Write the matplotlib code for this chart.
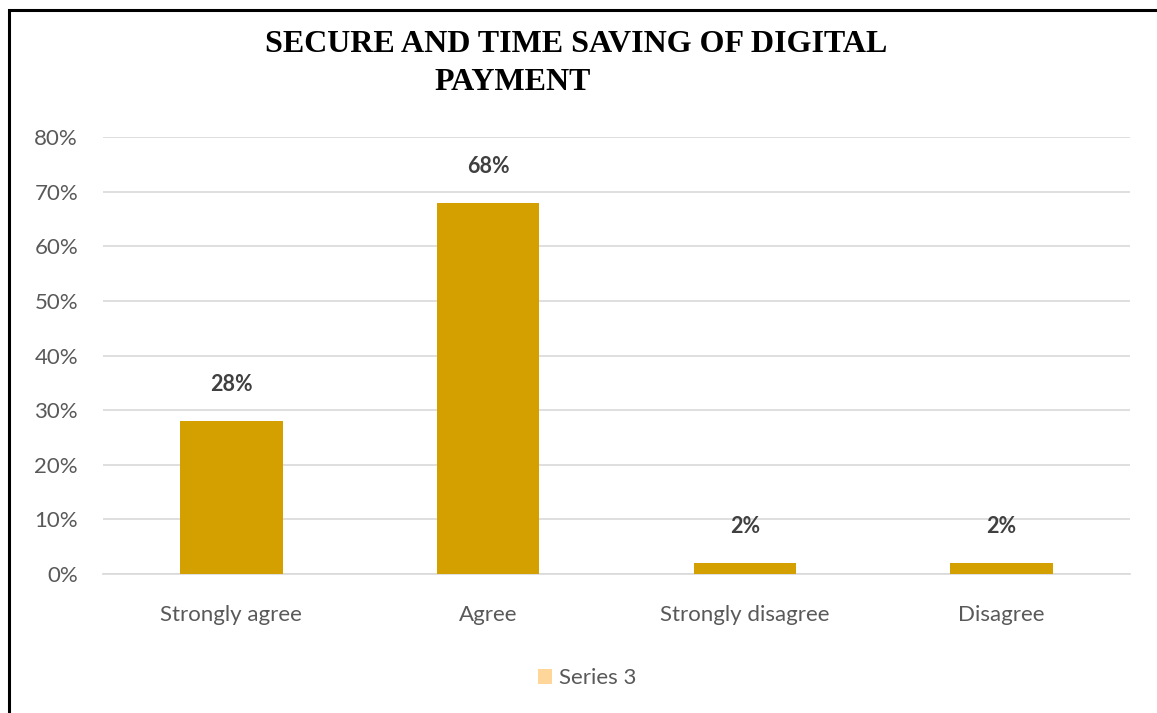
import matplotlib
matplotlib.use("Agg")
import matplotlib.pyplot as plt
from matplotlib.patches import Patch, Rectangle
from matplotlib.ticker import FuncFormatter

categories = ["Strongly agree", "Agree", "Strongly disagree", "Disagree"]
values = [0.28, 0.68, 0.02, 0.02]
labels = ["28%", "68%", "2%", "2%"]
series_name = "Series 3"
title_line1 = "SECURE AND TIME SAVING OF DIGITAL"
title_line2 = "PAYMENT"

W, H = 1157, 713
fig = plt.figure(figsize=(W / 100, H / 100), dpi=100)
fig.patch.set_facecolor("white")

# border (frame extends beyond right/bottom)
fig.add_artist(Rectangle((9 / W, -0.1), 1.2, 1 - 10 / H + 0.1, transform=fig.transFigure,
                         fill=False, edgecolor="black", linewidth=2.2))

FONT = "Lato"
ax = fig.add_axes([103 / W, 1 - 574 / H, (1130 - 103) / W, (574 - 137) / H])
x = range(len(categories))
ax.bar(x, values, width=0.4, color="#D4A000", zorder=3)
ax.set_xlim(-0.5, len(categories) - 0.5)
ax.set_ylim(0, 0.8)
ax.set_yticks([i / 10 for i in range(9)])
ax.yaxis.set_major_formatter(FuncFormatter(lambda v, p: f"{round(v*100)}%"))
ax.set_xticks(list(x))
ax.set_xticklabels(categories)
ax.grid(axis="y", color="#D9D9D9", linewidth=1.2, zorder=0)
for s in ["top", "right", "left"]:
    ax.spines[s].set_visible(False)
ax.spines["bottom"].set_color("#D9D9D9")
ax.spines["bottom"].set_linewidth(1.2)
ax.tick_params(axis="both", length=0, labelsize=16, labelcolor="#595959")
ax.tick_params(axis="x", pad=22.5)
ax.tick_params(axis="y", pad=18)
for lab in ax.get_xticklabels() + ax.get_yticklabels():
    lab.set_family(FONT)

for xi, v, l in zip(x, values, labels):
    ax.annotate(l, (xi, v), xytext=(0, 21.5), textcoords="offset points", ha="center",
                va="baseline", fontsize=15.5, fontweight="bold", color="#404040", family=FONT)

fig.text(576 / W, 1 - 45 / H, title_line1, ha="center", va="center", fontsize=23,
         fontweight="bold", family="Liberation Serif", color="black")
fig.text(513 / W, 1 - 82 / H, title_line2, ha="center", va="center", fontsize=23,
         fontweight="bold", family="Liberation Serif", color="black")

leg = fig.legend(handles=[Patch(facecolor="#FFD699", label=series_name)],
                 loc="center", bbox_to_anchor=(587 / W, 1 - 678 / H), frameon=False,
                 handlelength=0.65, handleheight=0.65, handletextpad=0.3,
                 prop={"family": FONT, "size": 16})
for t in leg.get_texts():
    t.set_color("#595959")

fig.savefig("out.png", dpi=100, facecolor="white")
